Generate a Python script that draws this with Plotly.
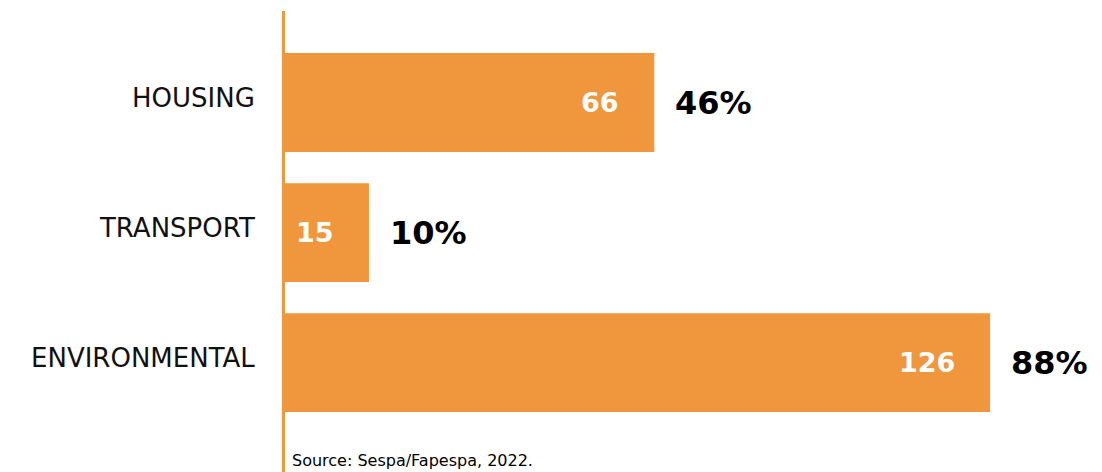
import plotly.graph_objects as go

categories = ["HOUSING", "TRANSPORT", "ENVIRONMENTAL"]
counts = [66, 15, 126]
shares = ["46%", "10%", "88%"]

ORANGE = "#F0963C"
FONT = "DejaVu Sans"

fig = go.Figure(
    go.Bar(
        x=counts,
        y=categories,
        orientation="h",
        marker=dict(color=ORANGE, line=dict(width=0)),
        width=0.76,
        hoverinfo="skip",
    )
)

# value inside the bar (white) and share outside (black)
for cat, n, pct in zip(categories, counts, shares):
    fig.add_annotation(
        x=n, y=cat, text=f"<b>{n}</b>", showarrow=False,
        xanchor="right", xshift=-33,
        font=dict(family=FONT, size=27, color="white"),
    )
    fig.add_annotation(
        x=n, y=cat, text=f"<b>{pct}</b>", showarrow=False,
        xanchor="left", xshift=19,
        font=dict(family=FONT, size=32, color="black"),
    )

fig.add_annotation(
    x=0, y=0.0, xref="paper", yref="paper", text="Source: Sespa/Fapespa, 2022.",
    showarrow=False, xanchor="left", yanchor="bottom", xshift=5, yshift=0,
    font=dict(family=FONT, size=16, color="black"),
)

fig.update_xaxes(range=[0, 146], visible=False, fixedrange=True)
fig.update_yaxes(
    range=[2.842, -0.704],
    showline=True, linecolor=ORANGE, linewidth=3,
    showgrid=False, zeroline=False, ticks="",
    ticklabelstandoff=22, ticklabelshift=5,
    tickfont=dict(family=FONT, size=26, color="#111111"),
)
# page body keeps its default 8px margin, so the figure is sized to fit
fig.update_layout(
    width=1094, height=464,
    margin=dict(l=277, r=0, t=3, b=0),
    plot_bgcolor="white", paper_bgcolor="white",
    showlegend=False,
)

fig.write_html("out.html")
